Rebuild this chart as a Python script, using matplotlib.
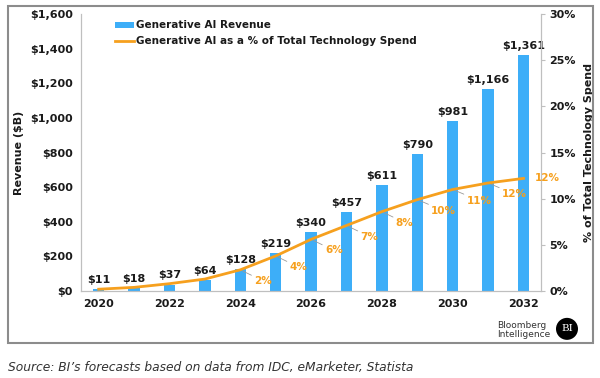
import matplotlib.pyplot as plt
from matplotlib.patches import Rectangle, Ellipse
from matplotlib.ticker import FuncFormatter

years = [2020, 2021, 2022, 2023, 2024, 2025, 2026, 2027, 2028, 2029, 2030, 2031, 2032]
revenue = [11, 18, 37, 64, 128, 219, 340, 457, 611, 790, 981, 1166, 1361]
share = [0.2, 0.4, 0.8, 1.3, 2.3, 3.8, 5.6, 7.1, 8.6, 9.9, 11.0, 11.7, 12.2]
share_labels = ['', '', '', '', '2%', '4%', '6%', '7%', '8%', '10%', '11%', '12%', '12%']

blue = '#3DAEF8'
orange = '#F6A01E'
dark = '#1a1a1a'

plt.rcParams['font.family'] = 'DejaVu Sans'
fig = plt.figure(figsize=(6, 3.78), dpi=100)
ax = fig.add_axes([0.135, 0.230, 0.767, 0.733])
ax2 = ax.twinx()

x = list(range(len(years)))
bars = ax.bar(x, revenue, width=0.32, color=blue, label='Generative AI Revenue', zorder=2)
for xi, v in zip(x, revenue):
    ax.text(xi, v + 25, '${:,}'.format(v), ha='center', va='bottom',
            fontsize=8, fontweight='bold', color=dark)

line, = ax2.plot(x, share, color=orange, lw=2, label='Generative AI as a % of Total Technology Spend', zorder=3)
for xi, v, lab in zip(x, share, share_labels):
    if not lab:
        continue
    if xi == len(x) - 1:
        ax2.annotate(lab, (xi, v), xytext=(8, 0), textcoords='offset points',
                     ha='left', va='center', fontsize=7.5, fontweight='bold', color=orange)
    else:
        ax2.annotate(lab, (xi, v), xytext=(10, -8), textcoords='offset points',
                     ha='left', va='center', fontsize=7.5, fontweight='bold', color=orange,
                     arrowprops=dict(arrowstyle='-', color='#999999', lw=0.6,
                                     shrinkA=0, shrinkB=2))

ax.set_xlim(-0.5, len(x) - 0.5)
ax.set_ylim(0, 1600)
ax2.set_ylim(0, 30)
ax.set_yticks(range(0, 1601, 200))
ax.yaxis.set_major_formatter(FuncFormatter(lambda v, p: '${:,.0f}'.format(v)))
ax2.set_yticks(range(0, 31, 5))
ax2.yaxis.set_major_formatter(FuncFormatter(lambda v, p: '{:.0f}%'.format(v)))
ax.set_xticks(x[::2])
ax.set_xticklabels([str(y) for y in years[::2]])

for a in (ax, ax2):
    a.spines['top'].set_visible(False)
    for s in ('left', 'right', 'bottom'):
        a.spines[s].set_color('#bfbfbf')
    a.tick_params(labelsize=8, colors=dark, length=0, pad=6)
    for t in a.get_yticklabels() + a.get_xticklabels():
        t.set_fontweight('bold')
ax2.tick_params(axis='y', length=3, color='#bfbfbf', pad=3)

ax.set_ylabel('Revenue ($B)', fontsize=8, fontweight='bold', color=dark, labelpad=4)
ax2.set_ylabel('% of Total Technology Spend', fontsize=8, fontweight='bold', color=dark, labelpad=6)

leg = ax.legend(handles=[bars, line], loc='upper left', bbox_to_anchor=(0.06, 1.0),
                frameon=False, fontsize=7.5, handlelength=1.8, handleheight=0.5,
                labelspacing=0.6, borderaxespad=0.2, handletextpad=0.2)
for t in leg.get_texts():
    t.set_fontweight('bold')
    t.set_color(dark)

fig.patches.append(Rectangle((0.0133, 0.0926), 0.975, 0.891, transform=fig.transFigure,
                             fill=False, edgecolor='#8c8c8c', lw=1.5))

# Bloomberg Intelligence logo
fig.text(0.828, 0.127, 'Bloomberg\nIntelligence', fontsize=6.5, color='#333333',
         ha='left', va='center', linespacing=1.05)
fig.patches.append(Ellipse((0.945, 0.130), 22 / 600, 22 / 378, transform=fig.transFigure,
                           facecolor='black', edgecolor='none'))
fig.text(0.945, 0.130, 'BI', fontsize=7.5, color='white', ha='center', va='center',
         family='DejaVu Serif')

fig.text(0.013, 0.029, 'Source: BI\u2019s forecasts based on data from IDC, eMarketer, Statista',
         fontsize=8.8, style='italic', color='#333333', ha='left', va='center')

fig.savefig('out.png', dpi=100)
